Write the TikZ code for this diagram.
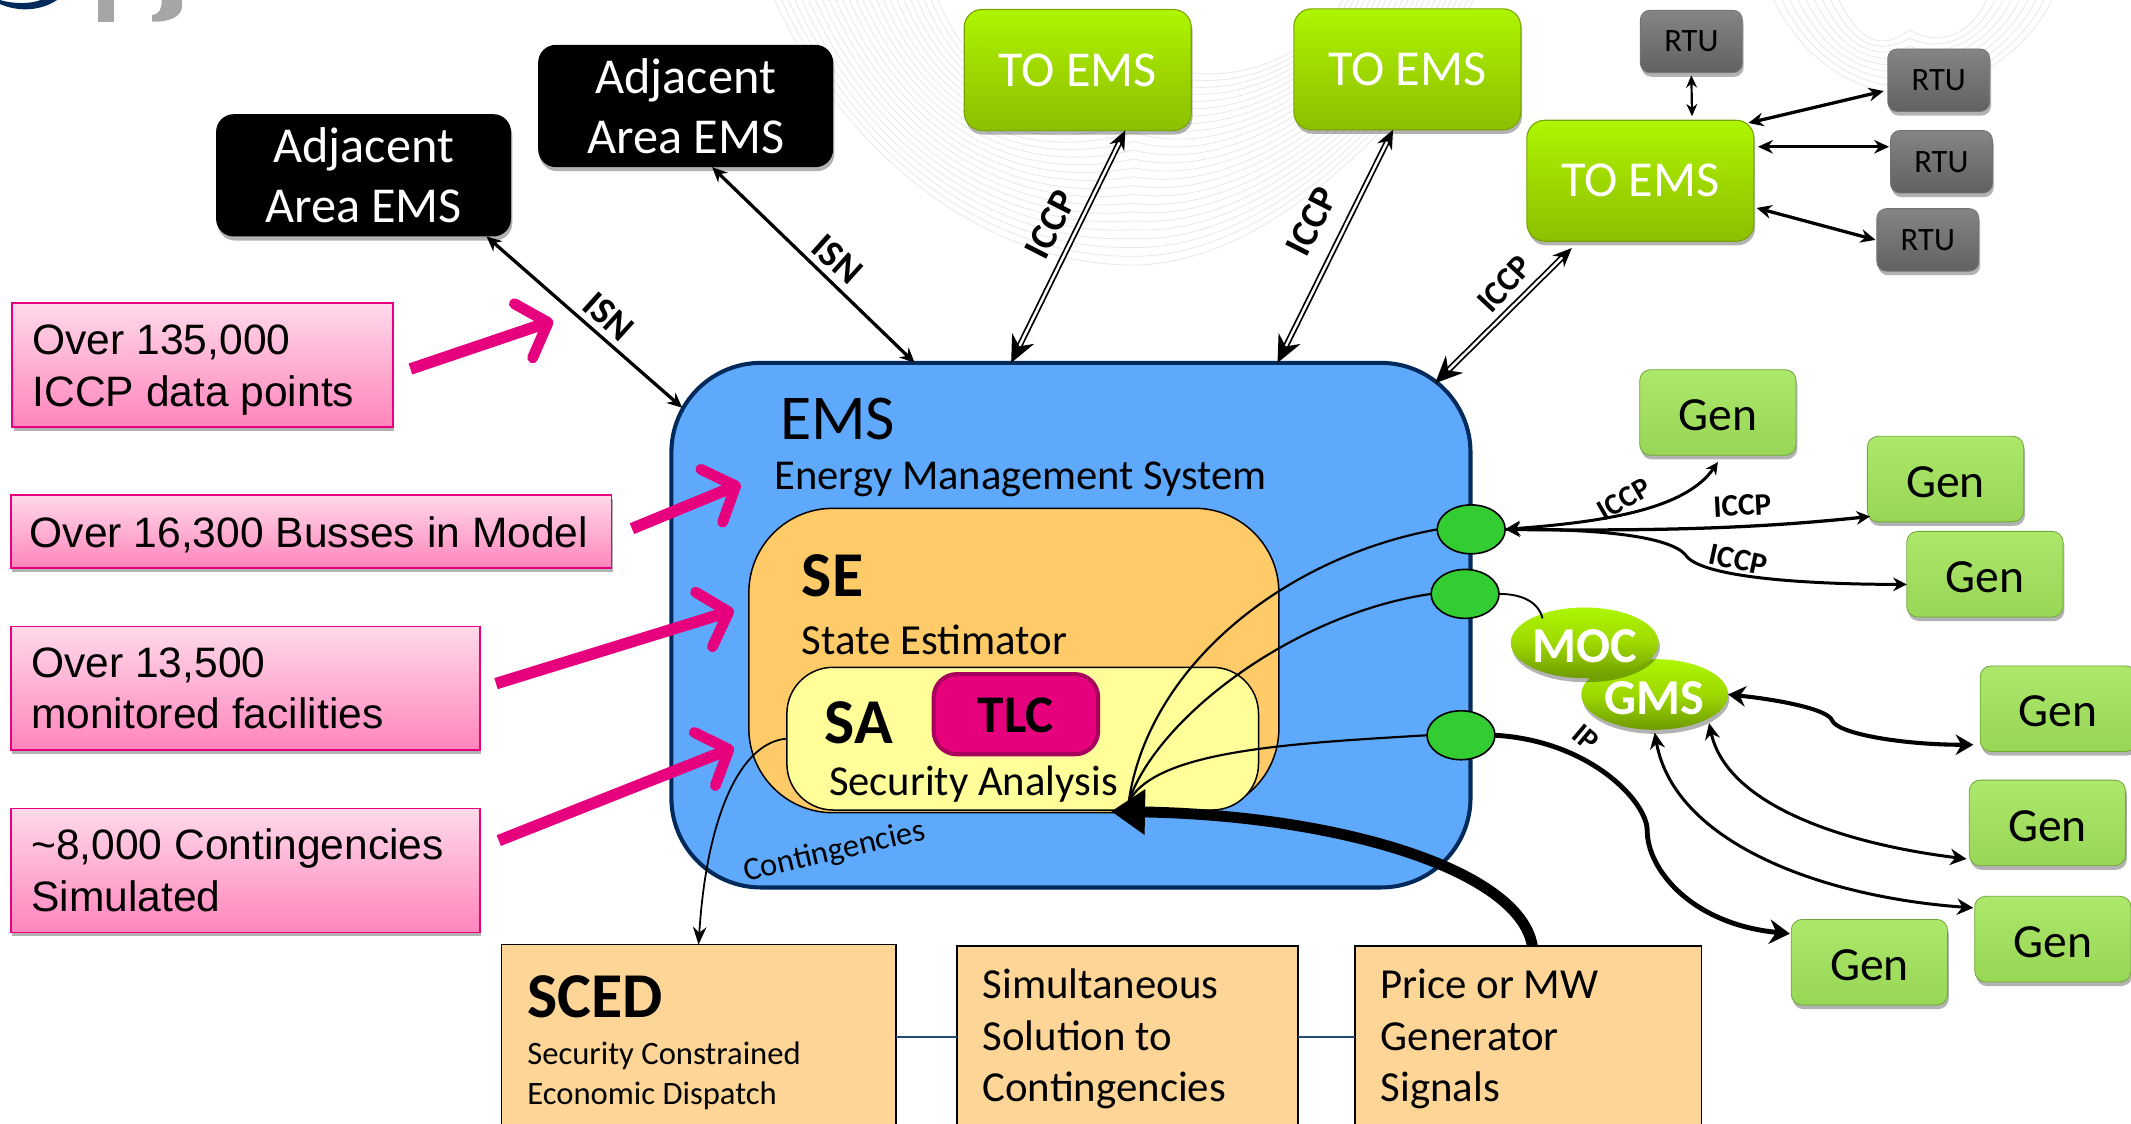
\documentclass[tikz,border=0pt]{standalone}
\usepackage{fontspec}
\setmainfont{Carlito}
\newfontfamily\arialf{Liberation Sans}
\usetikzlibrary{arrows.meta,shapes.geometric,shadows,calc}
\definecolor{magent}{HTML}{E6007E}
\definecolor{navyb}{HTML}{002A5C}
\definecolor{gengreen}{HTML}{9EDC5A}
\definecolor{gentop}{HTML}{ACE86A}
\definecolor{genbot}{HTML}{98D656}
\definecolor{gengreenb}{HTML}{6FA83A}
\definecolor{pink1}{HTML}{FFD9EA}
\definecolor{pink2}{HTML}{FF85BC}
\definecolor{orng}{HTML}{FDD596}
\definecolor{dotgreen}{HTML}{33CC33}
\definecolor{emsblue}{HTML}{5EA9FB}
\definecolor{seorange}{HTML}{FFCB69}
\definecolor{sayellow}{HTML}{FFFF99}
\definecolor{tlcdark}{HTML}{A8005C}
\definecolor{lime1}{HTML}{AEF600}
\definecolor{lime2}{HTML}{9ED800}
\definecolor{lime3}{HTML}{8CC000}
\definecolor{limeb}{HTML}{7AA400}
\definecolor{oval3}{HTML}{6E9A00}
\newcommand{\fsz}[2]{\fontsize{#1}{#2}\selectfont}
\newcommand{\liftp}{\rule{0pt}{29.5pt}}
\newcommand{\lifto}{\rule{0pt}{25pt}}
\newcommand{\lifts}{\rule{0pt}{29pt}}
\newcommand{\gentxt}{\rule{0pt}{27pt}Gen}
\tikzset{
  base/.style={inner sep=0pt,outer sep=0pt,align=center},
  softshadow/.style={drop shadow={shadow xshift=1pt,shadow yshift=-3pt,opacity=.3,fill=black}},
  blackbox/.style={base,rectangle,rounded corners=13pt,fill=black,text=white,softshadow,font=\fsz{37}{44}},
  toems/.style={base,rectangle,rounded corners=13pt,draw=limeb,line width=.8pt,top color=lime1,bottom color=lime3,middle color=lime2,text=white,softshadow,minimum width=167pt,minimum height=89pt,font=\fsz{37}{40}},
  rtubox/.style={base,rectangle,rounded corners=7pt,draw=black!55,line width=.6pt,top color=black!48,bottom color=black!62,text=black,softshadow,minimum width=75pt,minimum height=46pt,font=\fsz{24}{28}},
  genbox/.style={base,rectangle,rounded corners=8pt,draw=gengreenb,line width=.6pt,top color=gentop,bottom color=genbot,text=black,softshadow,minimum width=115pt,minimum height=63pt,font=\fsz{35}{38}},
  pinkbox/.style={base,rectangle,draw=magent,line width=1.2pt,top color=pink1,bottom color=pink2,softshadow,font=\arialf\fsz{31.3}{38},align=flush left,anchor=north west},
  orangebox/.style={base,rectangle,draw=black,line width=1.3pt,fill=orng,align=flush left,anchor=north west},
  dot/.style={base,ellipse,draw=black,line width=1.2pt,fill=dotgreen,minimum width=50pt,minimum height=36pt},
  oval/.style={base,ellipse,draw=none,top color=lime1,bottom color=oval3,middle color=lime2,text=white,softshadow,minimum width=108pt,minimum height=52pt,font=\bfseries\fsz{37}{40}},
  lab/.style={base,font=\bfseries\fsz{28}{30}},
  twoway/.style={line width=2.4pt,{Stealth[length=11pt,width=10pt]}-{Stealth[length=11pt,width=10pt]}},
  thinlink/.style={line width=1.6pt},
  dbl/.style={double,double distance=1.8pt,line width=1.3pt,{Stealth[length=20pt,width=18pt]}-{Stealth[length=14pt,width=12pt]}},
  pinkarrow/.style={draw=magent,line width=8.5pt,-{Straight Barb[length=19pt,width=42pt,line width=8pt,round]}},
  bluelink/.style={draw=navyb!85,line width=1pt},
  watermark/.style={draw=black!9,line width=.6pt}
}
\begin{document}
\begin{tikzpicture}[x=1pt,y=-1pt]
\useasboundingbox (0,0) rectangle (1568,827);
\clip (0,0) rectangle (1568,827);
% watermark
\foreach \i in {0,...,24}{
  \draw[watermark] ({570+\i*5},0) .. controls ({625+\i*4},{120-\i*2}) and ({730+\i*1.5},{195-\i*5}) .. ({834},{195-\i*6.5})
     .. controls ({930-\i*1.5},{195-\i*5}) and ({1040-\i*3},{90-\i*2}) .. ({1084-\i*4},0);
}
\foreach \i in {0,...,8}{
  \draw[watermark] ({1305+\i*6},0) .. controls ({1330+\i*5},{50-\i*2}) and ({1370+\i*2},{68-\i*4}) .. (1405,{70-\i*6})
     .. controls ({1445-\i*2},{68-\i*4}) and ({1490-\i*5},{40-\i*2}) .. ({1510-\i*6},0);
}
% logo fragment
\fill[navyb] (0,3) .. controls (14,9) and (30,8) .. (42,0) -- (30,0) .. controls (22,3) and (10,3) .. (0,0) -- cycle;
\fill[black!35] (72,0) rectangle (84,16);
\fill[black!35] (114,0) -- (134,0) -- (134,4) .. controls (134,12) and (126,16) .. (112,16) -- (112,11) .. controls (116,11) and (119,8) .. (119,0) -- cycle;
% external systems
\node[blackbox,minimum width=217pt,minimum height=90pt] (adj1) at (267.5,129) {Adjacent\\Area EMS};
\node[blackbox,minimum width=217pt,minimum height=90pt] (adj2) at (504.5,78) {Adjacent\\Area EMS};
\node[toems] (te1) at (793,51.5) {TO EMS};
\node[toems] (te2) at (1035.5,51) {TO EMS};
\node[toems] (te3) at (1207,133) {TO EMS};
\node[rtubox] (r1) at (1244.5,30.5) {RTU};
\node[rtubox] (r2) at (1426.5,59) {RTU};
\node[rtubox] (r3) at (1428.5,119) {RTU};
\node[rtubox] (r4) at (1418.5,176.5) {RTU};
% pink notes
\node[pinkbox,minimum width=280pt,minimum height=91pt,text width=250pt] (p1) at (9,223) {\liftp Over 135,000\\ICCP data points};
\node[pinkbox,minimum width=442pt,minimum height=54pt,text width=414pt] (p2) at (8,364) {\rule{0pt}{27pt}\mbox{Over 16,300 Busses in Model}};
\node[pinkbox,minimum width=345pt,minimum height=91pt,text width=315pt] (p3) at (8,461) {Over 13,500\\monitored facilities};
\node[pinkbox,minimum width=345pt,minimum height=91pt,text width=315pt] (p4) at (8,595) {\textasciitilde 8,000 Contingencies\\Simulated};
% EMS
\node[base,rectangle,rounded corners=66pt,draw=navyb,line width=3pt,fill=emsblue,minimum width=588pt,minimum height=386pt] (ems) at (788,460) {};
\node[base,anchor=west,font=\fsz{47}{50}] (emst) at (574,308) {EMS};
\node[base,anchor=west,font=\fsz{31.3}{34}] (emsd) at (570,353) {Energy Management System};
% SE
\node[base,rectangle,rounded corners=62pt,draw=black,line width=1.1pt,fill=seorange,minimum width=390pt,minimum height=224pt] (se) at (746,486) {};
\node[base,anchor=west,font=\bfseries\fsz{47}{50}] (set) at (590,424) {SE};
\node[base,anchor=west,font=\fsz{31.5}{34}] (sed) at (590,471) {State Estimator};
% SA
\node[base,rectangle,rounded corners=34pt,draw=black,line width=1.1pt,fill=sayellow,minimum width=347pt,minimum height=105pt] (sa) at (752.5,543.5) {};
\node[base,anchor=west,font=\bfseries\fsz{47}{50}] (sat) at (607,532) {SA};
\node[base,anchor=west,font=\fsz{31.4}{34}] (sad) at (610,577) {Security Analysis};
\node[base,rectangle,rounded corners=17pt,draw=tlcdark,line width=3pt,fill=magent,minimum width=121pt,minimum height=59pt,font=\bfseries\fsz{39}{40}] (tlc) at (747.5,525.5) {\rule{0pt}{27pt}TLC};
\node[base,rotate=13,font=\fsz{24}{26}] (cont) at (614,627) {Contingencies};
% bottom boxes
\node[orangebox,minimum width=290pt,minimum height=144pt,text width=252pt,font=\fsz{24}{29}] (sced) at (369,695) {{\bfseries\fsz{47}{50}SCED}\\[6pt]Security Constrained\\Economic Dispatch};
\node[orangebox,minimum width=251pt,minimum height=134pt,text width=213pt,font=\fsz{31.5}{38}] (sim) at (704,696) {\lifto Simultaneous\\Solution to\\Contingencies};
\node[orangebox,minimum width=255pt,minimum height=134pt,text width=217pt,font=\fsz{31.5}{38}] (price) at (997,696) {\lifto Price or MW\\Generator\\Signals};
\draw[bluelink] (sced.east |- sim.west) -- (sim.west);
\draw[bluelink] (sim.east) -- (price.west);
% generators & ovals
\node[genbox] (g1) at (1264,303.5) {\gentxt};
\node[genbox] (g2) at (1431.5,352.5) {\gentxt};
\node[genbox] (g3) at (1460.5,422.5) {\gentxt};
\node[genbox] (g4) at (1514.5,521.5) {\gentxt};
\node[genbox] (g5) at (1506.5,605.5) {\gentxt};
\node[genbox] (g6) at (1510.5,691) {\gentxt};
\node[genbox] (g7) at (1375.5,708) {\gentxt};
\node[oval] (gms) at (1217.5,511) {\lifts GMS};
\node[oval] (moc) at (1166,473) {\lifts MOC};
% connection dots
\node[dot] (c1) at (1082.5,389.5) {};
\node[dot] (c2) at (1078,437) {};
\node[dot] (c3) at (1075,541) {};
% ISN / ICCP links
\draw[twoway] ([xshift=-18pt]adj1.south east) -- ([xshift=8pt,yshift=-33pt]ems.north west);
\draw[twoway] ([xshift=19.5pt]adj2.south) -- ([xshift=-115pt]ems.north);
\node[lab,rotate=-42] (isn1) at (448,233) {ISN};
\node[lab,rotate=-42] (isn2) at (616,191) {ISN};
\draw[dbl] ([xshift=-44pt]ems.north) -- ([xshift=35pt]te1.south);
\draw[dbl] ([xshift=152pt]ems.north) -- ([xshift=-10.5pt]te2.south);
\draw[dbl] ([xshift=-26pt,yshift=-15pt]ems.north east) -- ([xshift=33pt,yshift=-5pt]te3.south west);
\node[lab,rotate=63] (ic1) at (773,165) {ICCP};
\node[lab,rotate=63] (ic2) at (965,163) {ICCP};
\node[lab,rotate=47,font=\bfseries\fsz{25}{28}] (ic3) at (1107,209) {ICCP};
% RTU links
\draw[line width=1.6pt,{Stealth[length=9pt,width=8pt]}-{Stealth[length=9pt,width=8pt]}] ([yshift=-2pt]r1.south) -- ([xshift=38pt,yshift=3pt]te3.north);
\draw[twoway] ([xshift=-4pt,yshift=-2pt]te3.north east) -- ([xshift=-3pt,yshift=-8pt]r2.west);
\draw[twoway] ([xshift=3pt,yshift=25pt]te3.east) -- ([xshift=-1pt,yshift=11pt]r3.west);
\draw[twoway] ([xshift=2pt,yshift=-20pt]te3.east) -- ([xshift=-1pt]r4.west);
% generator links
\draw[line width=2.2pt,{Stealth[length=11pt,width=11pt]}-{Stealth[length=9pt,width=9pt]}] (c1.east) .. controls (1180,384) and (1240,375) .. ([yshift=-5pt]g1.south);
\draw[line width=2.4pt,{Stealth[length=11pt,width=11pt]}-{Stealth[length=10pt,width=10pt]}] (c1.east) .. controls (1230,391) and (1300,388) .. ([xshift=2pt,yshift=-27.5pt]g2.west);
\draw[line width=2.2pt,-{Stealth[length=10pt,width=10pt]}] (c1.east) .. controls (1180,389) and (1228,395) .. (1240,408) .. controls (1250,425) and (1330,430) .. ([yshift=-7.5pt]g3.west);
\node[base,rotate=30,font=\bfseries\fsz{22}{24}] (il1) at (1195,367) {ICCP};
\node[base,rotate=3,font=\bfseries\fsz{23}{24}] (il2) at (1282,372) {ICCP};
\node[base,rotate=-12,font=\bfseries\fsz{23}{24}] (il3) at (1279,412) {ICCP};
\draw[line width=1.4pt] (c2.east) .. controls (1120,437) and (1132,443) .. ([xshift=-31pt,yshift=-8pt]moc.north);
\draw[line width=3.6pt,-{Stealth[length=15pt,width=18pt]}] (c3.east) .. controls (1170,545) and (1212,590) .. (1212,611) .. controls (1212,640) and (1245,680) .. ([xshift=-1pt,yshift=21pt]g7.west);
\node[base,rotate=-40,font=\bfseries\fsz{22}{24}] (ip) at (1167,543) {IP};
\draw[line width=3pt,{Stealth[length=13pt,width=15pt]}-{Stealth[length=13pt,width=15pt]}] (gms.east) .. controls (1310,515) and (1345,522) .. (1348,530) .. controls (1352,540) and (1400,548) .. ([xshift=-5pt,yshift=-26.5pt]g4.west);
\draw[line width=2.2pt,{Stealth[length=12pt,width=11pt]}-{Stealth[length=12pt,width=12pt]}] ([xshift=40pt,yshift=5pt]gms.south) .. controls (1270,590) and (1350,620) .. ([xshift=-2pt,yshift=-26.5pt]g5.west);
\draw[line width=2.2pt,{Stealth[length=12pt,width=11pt]}-{Stealth[length=12pt,width=12pt]}] ([yshift=-2pt]gms.south) .. controls (1232,620) and (1340,660) .. ([xshift=-1pt,yshift=23pt]g6.west);
% curves into SA
\draw[thinlink] (c1.west) .. controls (945,410) and (845,490) .. ([xshift=78pt,yshift=6pt]sa.south);
\draw[thinlink] (c2.west) .. controls (950,452) and (850,530) .. ([xshift=78pt,yshift=6pt]sa.south);
\draw[thinlink] (c3.west) .. controls (950,547) and (850,552) .. ([xshift=78pt,yshift=6pt]sa.south);
% contingencies to SCED
\draw[line width=1.3pt,-{Stealth[length=13pt,width=10pt]}] (sa.west) .. controls (545,546) and (520,600) .. (sced.north);
% big signal arrow
\draw[line width=8pt,-{Triangle[length=25pt,width=32pt]}] ([xshift=3pt]price.north) .. controls (1118,640) and (985,600) .. ([xshift=65pt,yshift=-1pt]sa.south);
% pink callout arrows
\draw[pinkarrow] ([xshift=13pt,yshift=-3pt]p1.east) -- (407,236);
\draw[pinkarrow] ([xshift=15pt,yshift=2pt]p2.east) -- (545,356);
\draw[pinkarrow] ([xshift=12pt,yshift=3.5pt]p3.east) -- (540,449);
\draw[pinkarrow] ([xshift=14pt,yshift=22pt]p4.east) -- (540,550);
\end{tikzpicture}
\end{document}
